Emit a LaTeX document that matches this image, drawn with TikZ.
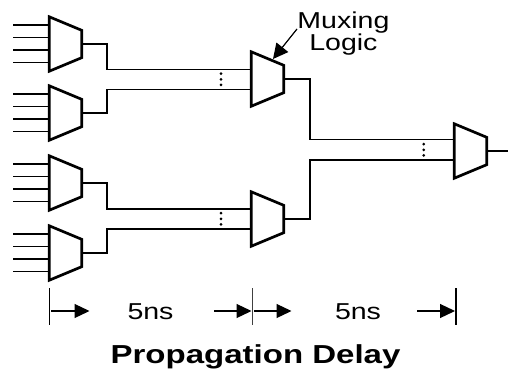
\documentclass[tikz,border=0pt]{standalone}
\usepackage{fontspec}
\setmainfont{Liberation Sans}
\newfontfamily\widefont[FakeStretch=1.24]{Liberation Sans}
\newfontfamily\widebold[FakeStretch=1.27]{Liberation Sans Bold}
\usetikzlibrary{arrows.meta}
\tikzset{
  wire/.style={line width=1.9pt,line cap=butt,line join=miter},
  muxline/.style={line width=2.7pt,line join=miter},
  muxbox/.style={rectangle,inner sep=0pt,minimum width=32pt,minimum height=54pt,draw=none},
  tick/.style={line width=1.2pt},
  dimarrow/.style={line width=1.2pt,-{Triangle[length=15pt,width=14pt]}},
  dotmark/.style={circle,fill=black,inner sep=0pt,minimum size=3pt},
  label/.style={font=\widefont\fontsize{23}{21}\selectfont,inner sep=0pt,align=center}
}
\newcommand{\muxat}[3]{%
  \node[muxbox] (#1) at (#2+16,#3+27) {};
  \draw[muxline] (#1.north west) -- ([yshift=-13.5pt]#1.north east) -- ([yshift=13.5pt]#1.south east) -- (#1.south west) -- cycle;
}
\newcommand{\inputs}[3]{%
  \foreach \n/\o in {1/8,2/20.5,3/33,4/45.5}{
    \coordinate (#1in\n) at (#2,#3+\o);
    \draw[wire] (#1in\n) -- (#1in\n -| #1.west);
  }
}
\newcommand{\threedots}[3]{%
  \node[dotmark] (#1a) at (#2,#3-5.6) {};
  \node[dotmark] (#1b) at (#2,#3) {};
  \node[dotmark] (#1c) at (#2,#3+5.6) {};
}
\begin{document}
\begin{tikzpicture}[x=1pt,y=-1pt]
\useasboundingbox (0,0) rectangle (508,370);
\muxat{m1}{49.5}{17}
\muxat{m2}{49.5}{86}
\muxat{m3}{49.5}{156}
\muxat{m4}{49.5}{226}
\muxat{m5}{251.5}{52}
\muxat{m7}{251.5}{192}
\muxat{m6}{454.5}{124}
\inputs{m1}{13}{17}
\inputs{m2}{13}{86}
\inputs{m3}{13}{156}
\inputs{m4}{13}{226}
\coordinate (j1) at (107,69.5);
\coordinate (j2) at (107,89.5);
\coordinate (j3) at (107,209);
\coordinate (j4) at (107,229);
\coordinate (j5) at (309.7,139.5);
\coordinate (j6) at (309.7,160);
\coordinate (out) at (508,151);
\draw[wire] (m1.east) -| (j1) -- (j1 -| m5.west);
\draw[wire] (m2.east) -| (j2) -- (j2 -| m5.west);
\draw[wire] (m3.east) -| (j3) -- (j3 -| m7.west);
\draw[wire] (m4.east) -| (j4) -- (j4 -| m7.west);
\draw[wire] (m5.east) -| (j5) -- (j5 -| m6.west);
\draw[wire] (m7.east) -| (j6) -- (j6 -| m6.west);
\draw[wire] (m6.east) -- (out);
\threedots{d1}{221}{79.3}
\threedots{d2}{221}{218.8}
\threedots{d3}{423.7}{149.8}
\node[label] (muxing) at (343.4,33.5) {Muxing\\Logic};
\coordinate (leader) at (297,29);
\coordinate (muxtip) at (273,59);
\draw[line width=1.2pt,-{Triangle[length=15pt,width=15pt]}] (leader) -- (muxtip);
\coordinate (t1a) at (49.5,288); \coordinate (t1b) at (49.5,325);
\coordinate (t2a) at (252.5,288); \coordinate (t2b) at (252.5,325);
\coordinate (t3a) at (456,288); \coordinate (t3b) at (456,325);
\draw[tick] (t1a) -- (t1b);
\draw[tick,line width=1.5pt,draw=black!75] (t2a) -- (t2b);
\draw[tick] (t3a) -- (t3b);
\coordinate (a1) at (51,311); \coordinate (a1e) at (89.5,311);
\coordinate (a2) at (214,311); \coordinate (a2e) at (251.5,311);
\coordinate (a3) at (254,311); \coordinate (a3e) at (291.5,311);
\coordinate (a4) at (417,311); \coordinate (a4e) at (455,311);
\draw[dimarrow] (a1) -- (a1e);
\draw[dimarrow] (a2) -- (a2e);
\draw[dimarrow] (a3) -- (a3e);
\draw[dimarrow] (a4) -- (a4e);
\node[label] (ns1) at (150.5,311.5) {5ns};
\node[label] (ns2) at (358,311.5) {5ns};
\node[inner sep=0pt,font=\widebold\fontsize{26}{26}\selectfont] (title) at (255.5,356.5) {Propagation Delay};
\end{tikzpicture}
\end{document}
